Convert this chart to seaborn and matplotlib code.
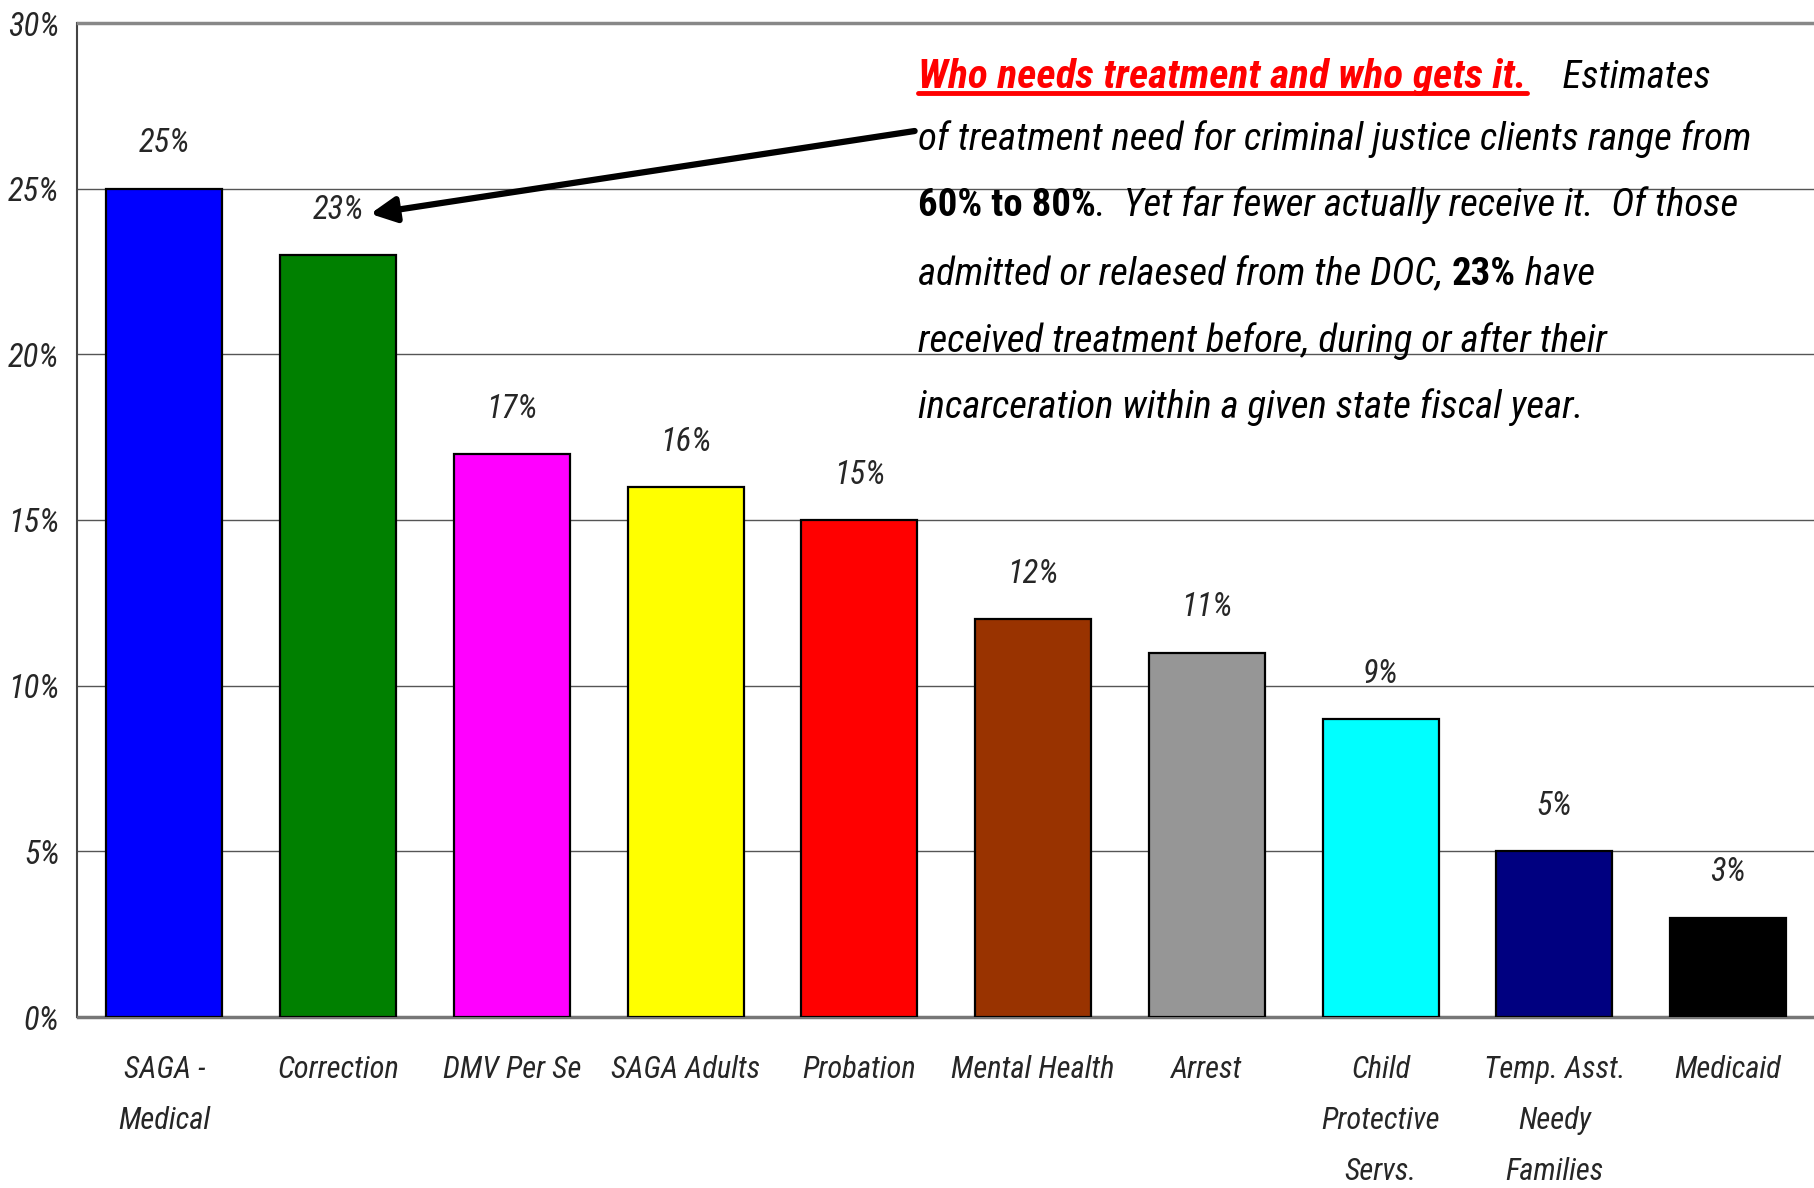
import matplotlib
matplotlib.use("Agg")
import matplotlib.pyplot as plt
import seaborn as sns
from matplotlib.lines import Line2D

categories = ["SAGA -\nMedical", "Correction", "DMV Per Se", "SAGA Adults", "Probation",
              "Mental Health", "Arrest", "Child\nProtective\nServs.", "Temp. Asst.\nNeedy\nFamilies",
              "Medicaid"]
values = [25, 23, 17, 16, 15, 12, 11, 9, 5, 3]
colors = ["#0000FF", "#008000", "#FF00FF", "#FFFF00", "#FF0000",
          "#993300", "#969696", "#00FFFF", "#000080", "#000000"]
yticks = [0, 5, 10, 15, 20, 25, 30]

sns.set_style("white")
plt.rcParams['font.family'] = ['Liberation Sans Narrow', 'Arial Narrow', 'Roboto Condensed',
                               'Archivo Narrow', 'IBM Plex Sans Condensed', 'DejaVu Sans']
plt.rcParams['font.style'] = 'italic'

W, H = 1815, 1188
fig = plt.figure(figsize=(W / 100, H / 100), dpi=100)
ax = fig.add_axes([77.5 / W, 1 - 1017 / H, 1 - 77.5 / W, (1017 - 23) / H])

sns.barplot(x=categories, y=values, hue=categories, palette=colors, legend=False,
            saturation=1, width=0.667, edgecolor="black", linewidth=1.6, ax=ax, zorder=3)

ax.set_xlim(-0.5, 9.5)
ax.set_ylim(0, 30)
ax.set_yticks(yticks)
ax.set_yticklabels([f"{t}%" for t in yticks], fontsize=23.5, style='italic')
ax.tick_params(axis='y', length=0, pad=13)
ax.tick_params(axis='x', length=0, pad=27, labelsize=22)
for lab in ax.get_xticklabels():
    lab.set_linespacing(1.97)
    lab.set_style('italic')
ax.set_xlabel("")
ax.set_ylabel("")
ax.yaxis.grid(True, color="#555555", linewidth=1.0, zorder=0)
ax.set_axisbelow(True)
ax.spines["left"].set_color("#444444")
ax.spines["left"].set_linewidth(1.5)
ax.spines["top"].set_color("#888888")
ax.spines["top"].set_linewidth(2.5)
ax.spines["bottom"].set_color("#777777")
ax.spines["bottom"].set_linewidth(2.5)
ax.spines["right"].set_visible(False)

# value labels
for i, v in enumerate(values):
    ax.annotate(f"{v}%", xy=(i, v), xytext=(0, 21), textcoords="offset points",
                ha="center", va="bottom", fontsize=23.5, style='italic')

# arrow pointing at Correction label
ax.annotate("", xy=(1.185, 24.24), xytext=(4.318, 26.74),
            arrowprops=dict(arrowstyle="-|>", lw=4.5, color="black", mutation_scale=38,
                            shrinkA=0, shrinkB=0))

# annotation paragraph: (text, weight, style, colour, size)
fs = 28
x0 = 918
baselines = [88, 150, 216, 285, 352, 418]
lines = [
    [("Who needs treatment and who gets it.", "bold", "italic", "red", 29.8),
     ("    Estimates", "normal", "italic", "black", fs)],
    [("of treatment need for criminal justice clients range from", "normal", "italic", "black", fs)],
    [("60% to 80%", "bold", "normal", "black", fs),
     (".  Yet far fewer actually receive it.  Of those", "normal", "italic", "black", fs)],
    [("admitted or relaesed from the DOC, ", "normal", "italic", "black", fs),
     ("23%", "bold", "normal", "black", fs), (" have", "normal", "italic", "black", fs)],
    [("received treatment before, during or after their", "normal", "italic", "black", fs)],
    [("incarceration within a given state fiscal year.", "normal", "italic", "black", fs)],
]
title_txt = None
for yb, pieces in zip(baselines, lines):
    prev = None
    for txt, wt, st, col, size in pieces:
        if prev is None:
            t = ax.annotate(txt, xy=(x0 / W, 1 - yb / H), xycoords="figure fraction",
                            ha="left", va="baseline", fontsize=size, fontweight=wt,
                            style=st, color=col, zorder=5)
        else:
            # next piece starts where the previous one ends
            t = ax.annotate(txt, xy=(1, 0), xycoords=prev, ha="left", va="bottom",
                            fontsize=size, fontweight=wt, style=st, color=col, zorder=5)
        if title_txt is None:
            title_txt = t
        prev = t

fig.canvas.draw()
bb = title_txt.get_window_extent()
uy = 1 - 93 / H
fig.add_artist(Line2D([bb.x0 / W, bb.x1 / W], [uy, uy], color="red", lw=3.5))

fig.savefig("out.png", dpi=100)
